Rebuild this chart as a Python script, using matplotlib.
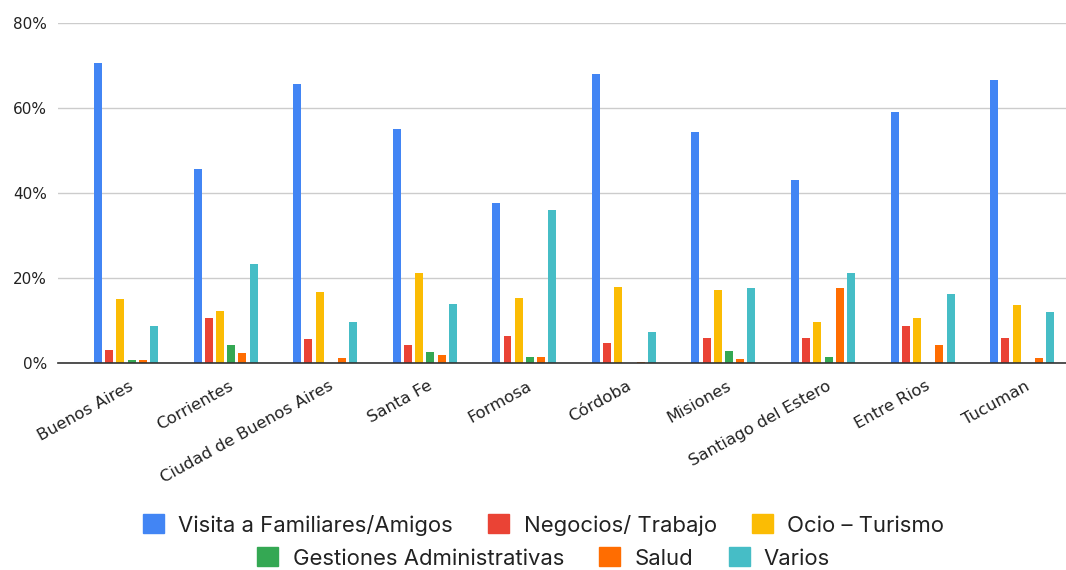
import matplotlib
matplotlib.use("Agg")
import matplotlib.pyplot as plt
import numpy as np
import matplotlib.transforms as mtransforms
from matplotlib.ticker import FuncFormatter
from matplotlib.patches import Patch

categories = ["Buenos Aires", "Corrientes", "Ciudad de Buenos Aires", "Santa Fe", "Formosa",
              "Córdoba", "Misiones", "Santiago del Estero", "Entre Rios", "Tucuman"]
series_names = ["Visita a Familiares/Amigos", "Negocios/ Trabajo", "Ocio – Turismo",
                "Gestiones Administrativas", "Salud", "Varios"]
visita = [70.6, 45.6, 65.6, 55.0, 37.6, 68.0, 54.4, 43.0, 59.0, 66.6]
negocios = [3.1, 10.5, 5.6, 4.2, 6.4, 4.6, 6.0, 6.0, 8.7, 6.0]
ocio = [15.0, 12.3, 16.7, 21.1, 15.2, 18.0, 17.2, 9.6, 10.7, 13.6]
gestiones = [0.8, 4.2, 0.1, 2.5, 1.5, 0.0, 2.9, 1.5, 0.0, 0.0]
salud = [0.7, 2.4, 1.2, 2.0, 1.5, 0.2, 0.9, 17.6, 4.2, 1.1]
varios = [8.7, 23.3, 9.6, 14.0, 36.0, 7.4, 17.6, 21.1, 16.2, 12.1]
colors = ["#4285F4", "#EA4335", "#FBBC04", "#34A853", "#FF6D01", "#46BDC6"]

series = [visita, negocios, ocio, gestiones, salud, varios]

W, H = 1066, 570
fig = plt.figure(figsize=(W / 100, H / 100), dpi=100)
left, right, bottom, top = 58, 1066, 363, 23
ax = fig.add_axes([left / W, 1 - bottom / H, (right - left) / W, (bottom - top) / H])

x = np.arange(len(categories))
step = 0.1125
bw = 0.08
for i, (vals, c) in enumerate(zip(series, colors)):
    ax.bar(x + (i - 2.5) * step, np.array(vals) / 100.0, width=bw, color=c, zorder=3)

ax.set_ylim(0, 0.8)
ax.set_xlim(-0.683, 9.44)
ax.set_yticks([0, 0.2, 0.4, 0.6, 0.8])
ax.yaxis.set_major_formatter(FuncFormatter(lambda v, p: f"{int(round(v * 100))}%"))
ax.grid(axis="y", color="#cccccc", linewidth=1, zorder=0)
for s in ["top", "right", "left"]:
    ax.spines[s].set_visible(False)
ax.spines["bottom"].set_color("#333333")
ax.spines["bottom"].set_linewidth(1.2)
ax.spines["bottom"].set_zorder(4)
ax.tick_params(axis="y", length=0, pad=8, labelsize=11, labelcolor="#222222")
ax.tick_params(axis="x", length=0, pad=11)
ax.set_xticks(x)
ax.set_xticklabels(categories, rotation=29, ha="right", rotation_mode="anchor",
                   fontsize=11.8, color="#222222")
offset = mtransforms.ScaledTranslation(3 / 100, 0, fig.dpi_scale_trans)
for lbl in ax.get_xticklabels():
    lbl.set_transform(lbl.get_transform() + offset)

handles = [Patch(facecolor=c, edgecolor=c) for c in colors]
leg_kw = dict(frameon=False, handlelength=0.95, handleheight=0.95,
              handletextpad=0.65, columnspacing=1.6, prop={"family": "Inter", "size": 15.9})
l1 = fig.legend(handles[:3], series_names[:3], loc="center", ncol=3,
                bbox_to_anchor=(0.510, 1 - 525 / H), **leg_kw)
l2 = fig.legend(handles[3:], series_names[3:], loc="center", ncol=3,
                bbox_to_anchor=(0.510, 1 - 558 / H), **leg_kw)
for l in (l1, l2):
    for t in l.get_texts():
        t.set_color("#222222")

fig.savefig("out.png", dpi=100)
